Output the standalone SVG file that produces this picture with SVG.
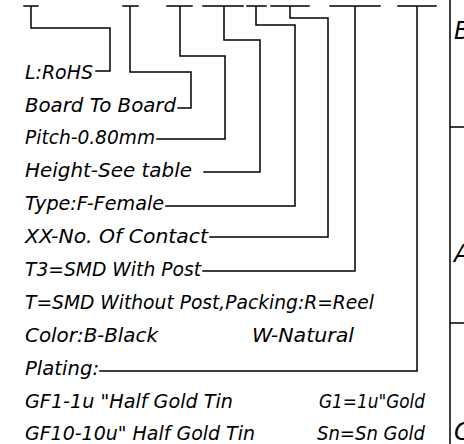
<svg xmlns="http://www.w3.org/2000/svg" width="464" height="444" viewBox="0 0 464 444">
<style>
.t{font-family:"DejaVu Sans","Liberation Sans",sans-serif;font-style:italic;font-size:20px;fill:#000}
.r{font-size:24px}
.c{fill:none;stroke:#000;stroke-width:1.5;stroke-linecap:square}
</style>
<rect width="464" height="444" fill="#fff"/>
<g id="connectors" class="c">
<path d="M24,6H38M31,6V28H110V71H96"/>
<path d="M123,6H138M130,6V72H191V108H178"/>
<path d="M167,6H192M180,6V56H225V139H157"/>
<path d="M203,6H243M224,6V40H260V172H204"/>
<path d="M247,6H266M256,6V25H295V206H166"/>
<path d="M271,6H309M290,6V18H328V237H210"/>
<path d="M330,6H380M355,6V271H203"/>
<path d="M398,6H436M417,6V371H100"/>
</g>
<g id="table" class="c">
<path d="M450,0V444M450,127H464M450,323H464"/>
</g>
<g id="labels" class="t">
<g id="n-rohs"><text x="25" y="79" textLength="68" lengthAdjust="spacingAndGlyphs">L:RoHS</text></g>
<g id="n-btb"><text x="25" y="112" textLength="151" lengthAdjust="spacingAndGlyphs">Board To Board</text></g>
<g id="n-pitch"><text x="25" y="144" textLength="130" lengthAdjust="spacingAndGlyphs">Pitch-0.80mm</text></g>
<g id="n-height"><text x="25" y="177" textLength="167" lengthAdjust="spacingAndGlyphs">Height-See table</text></g>
<g id="n-type"><text x="25" y="210" textLength="139" lengthAdjust="spacingAndGlyphs">Type:F-Female</text></g>
<g id="n-contact"><text x="25" y="243" textLength="183" lengthAdjust="spacingAndGlyphs">XX-No. Of Contact</text></g>
<g id="n-t3"><text x="25" y="276" textLength="176" lengthAdjust="spacingAndGlyphs">T3=SMD With Post</text></g>
<g id="n-t"><text x="25" y="309" textLength="349" lengthAdjust="spacingAndGlyphs">T=SMD Without Post,Packing:R=Reel</text></g>
<g id="n-color"><text x="25" y="342" textLength="133" lengthAdjust="spacingAndGlyphs">Color:B-Black</text>
<text x="252" y="342" textLength="102" lengthAdjust="spacingAndGlyphs">W-Natural</text></g>
<g id="n-plating"><text x="25" y="375" textLength="74" lengthAdjust="spacingAndGlyphs">Plating:</text></g>
<g id="n-gf1"><text x="25" y="408" textLength="208" lengthAdjust="spacingAndGlyphs">GF1-1u "Half Gold Tin</text>
<text x="319" y="408" textLength="106" lengthAdjust="spacingAndGlyphs">G1=1u"Gold</text></g>
<g id="n-gf10"><text x="25" y="440" textLength="230" lengthAdjust="spacingAndGlyphs">GF10-10u" Half Gold Tin</text>
<text x="317" y="440" textLength="108" lengthAdjust="spacingAndGlyphs">Sn=Sn Gold</text></g>
<g id="n-right" class="r"><text x="454" y="39">B</text><text x="454" y="262">A</text><text x="454" y="440">C</text></g>
</g>
</svg>
